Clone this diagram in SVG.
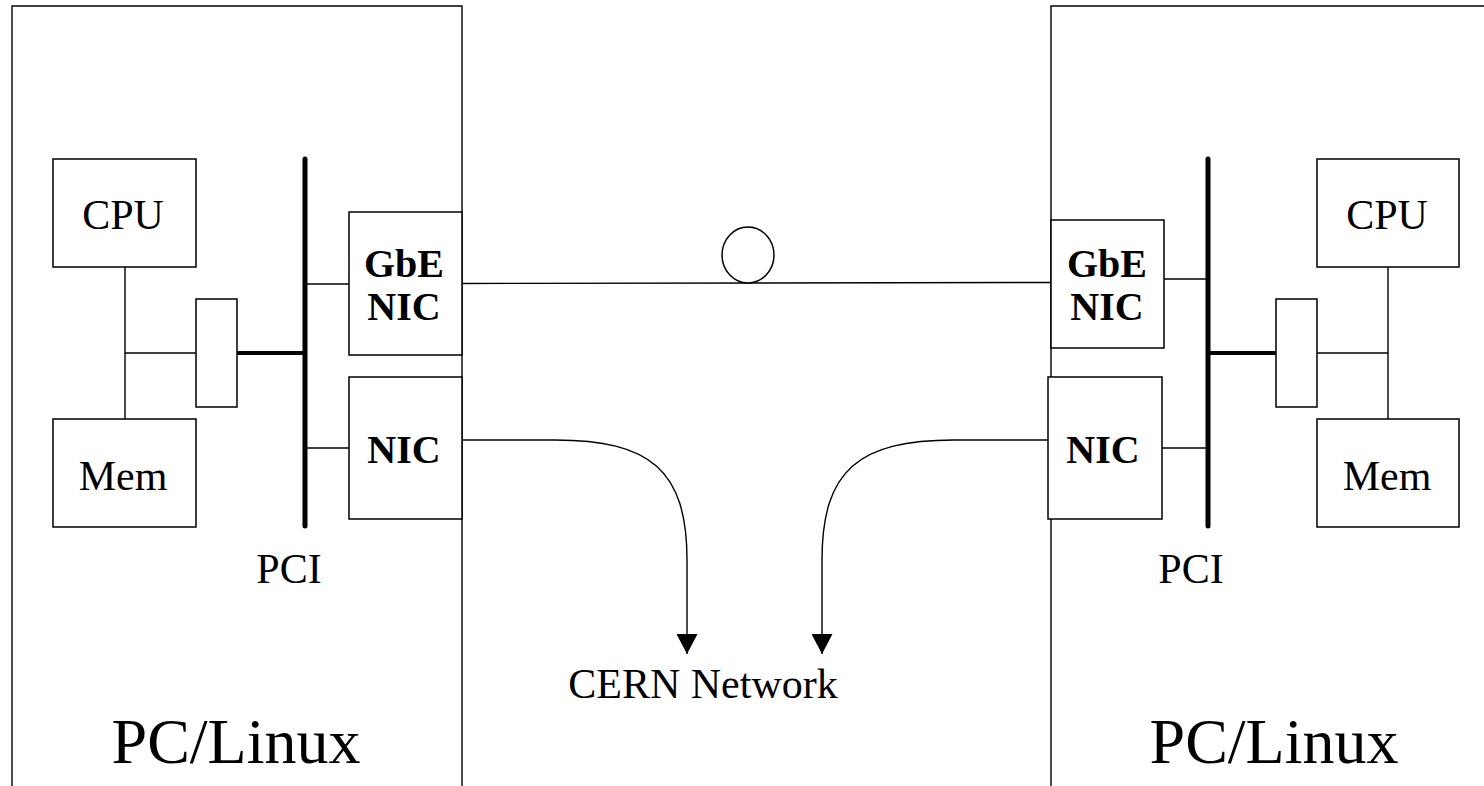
<svg xmlns="http://www.w3.org/2000/svg" width="1484" height="786" viewBox="0 0 1484 786">
<defs>
<style>
.box{fill:#fff;stroke:#000;stroke-width:1.5}
.frame{fill:none;stroke:#000;stroke-width:1.4}
.ln{fill:none;stroke:#000;stroke-width:1.4}
.bus{fill:none;stroke:#000;stroke-width:5;stroke-linecap:round}
.hbus{fill:none;stroke:#000;stroke-width:4;stroke-linecap:round}
.t{font-family:"Liberation Serif","Times New Roman",serif;fill:#000;text-anchor:middle}
.m{font-size:42px}
.b{font-size:40px;font-weight:bold}
.big{font-size:64px}
</style>
<marker id="arr" viewBox="0 0 20 20" refX="20" refY="10" markerWidth="20" markerHeight="21" markerUnits="userSpaceOnUse" orient="auto" preserveAspectRatio="none">
<path d="M0,0 L20,10 L0,20 z" fill="#000"/>
</marker>
</defs>
<rect width="1484" height="786" fill="#fff"/>

<g id="pc-left">
<path class="frame" d="M12,790 L12,6 L462,6 L462,790"/>
<text class="t big" x="236" y="763">PC/Linux</text>
</g>
<g id="pc-right">
<path class="frame" d="M1051,790 L1051,6 L1490,6"/>
<text class="t big" x="1274" y="763">PC/Linux</text>
</g>

<g id="connectors">
<path class="ln" d="M125,267 L125,419"/>
<path class="ln" d="M125,353 L196,353"/>
<path class="hbus" d="M237,353 L304,353"/>
<path class="ln" d="M305,284 L349,284"/>
<path class="ln" d="M305,448 L349,448"/>
<path class="ln" d="M1388,267 L1388,419"/>
<path class="ln" d="M1317,353 L1388,353"/>
<path class="hbus" d="M1208,353 L1276,353"/>
<path class="ln" d="M1164,279 L1208,279"/>
<path class="ln" d="M1158,448 L1208,448"/>
<path class="ln" d="M462,283.5 L1051,282.5"/>
<path class="ln" d="M462,440 L555,440 C650,440 687,470 687,560 L687,654" marker-end="url(#arr)"/>
<path class="ln" d="M1048,440 L954,440 C859,440 822,470 822,560 L822,654" marker-end="url(#arr)"/>
</g>

<g id="pci-left">
<path class="bus" d="M305,159 L305,526"/>
<text class="t m" x="289" y="583">PCI</text>
</g>
<g id="pci-right">
<path class="bus" d="M1208,159 L1208,526"/>
<text class="t m" x="1191" y="583">PCI</text>
</g>

<g id="cpu-left">
<rect class="box" x="53" y="159" width="143" height="108"/>
<text class="t m" x="123" y="229">CPU</text>
</g>
<g id="mem-left">
<rect class="box" x="53" y="419" width="143" height="108"/>
<text class="t m" x="123" y="490">Mem</text>
</g>
<g id="bridge-left">
<rect class="box" x="196" y="299" width="41" height="108"/>
</g>
<g id="gbe-left">
<rect class="box" x="349" y="212" width="113" height="143"/>
<text class="t b" x="404" y="277">GbE</text>
<text class="t b" x="404" y="320">NIC</text>
</g>
<g id="nic-left">
<rect class="box" x="349" y="377" width="113" height="142"/>
<text class="t b" x="404" y="463">NIC</text>
</g>

<g id="cpu-right">
<rect class="box" x="1317" y="159" width="142" height="108"/>
<text class="t m" x="1387" y="229">CPU</text>
</g>
<g id="mem-right">
<rect class="box" x="1317" y="419" width="142" height="108"/>
<text class="t m" x="1387" y="490">Mem</text>
</g>
<g id="bridge-right">
<rect class="box" x="1276" y="299" width="41" height="108"/>
</g>
<g id="gbe-right">
<rect class="box" x="1051" y="220" width="113" height="128"/>
<text class="t b" x="1107" y="277">GbE</text>
<text class="t b" x="1107" y="320">NIC</text>
</g>
<g id="nic-right">
<rect class="box" x="1048" y="377" width="114" height="142"/>
<text class="t b" x="1103" y="463">NIC</text>
</g>

<g id="fiber">
<ellipse class="box" cx="748" cy="255" rx="26" ry="28"/>
</g>

<g id="cern">
<text class="t m" x="703" y="698">CERN Network</text>
</g>
</svg>
